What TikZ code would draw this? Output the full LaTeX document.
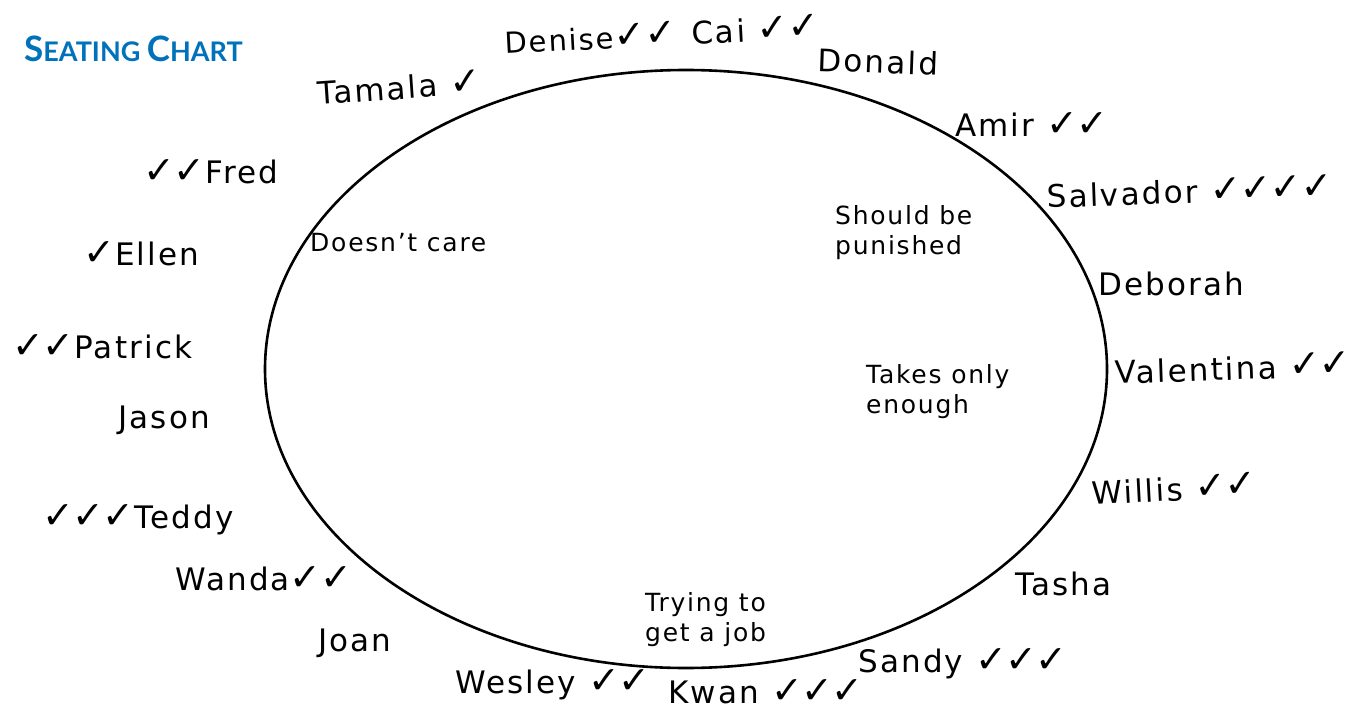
\documentclass[tikz,border=0pt]{standalone}
\usepackage{fontspec}
\setmainfont{DejaVu Sans}[LetterSpace=7]
\newfontfamily\titlefont{Lato}
\newfontfamily\checkfont{DejaVu Sans}[LetterSpace=-4]
\newcommand\ck{{\checkfont\fontsize{38}{38}\selectfont ✓}}
\definecolor{titleblue}{RGB}{0,114,188}
\tikzset{
  person/.style={anchor=base west, inner sep=0pt, font=\fontsize{31}{32}\selectfont},
  remark/.style={anchor=north west, inner sep=0pt, align=left, font=\fontsize{25}{30}\selectfont},
  ring/.style={draw=black, line width=2.6pt}
}
\begin{document}
\begin{tikzpicture}[x=1pt,y=-1pt]
\useasboundingbox (0,0) rectangle (1351,714);
\fill[white] (0,0) rectangle (1351,714);
% title
\node[anchor=base west, inner sep=0pt, text=titleblue] (title) at (24,62)
  {\titlefont\bfseries\fontsize{35}{35}\selectfont S\fontsize{27}{27}\selectfont EATING \fontsize{35}{35}\selectfont C\fontsize{27}{27}\selectfont HART};
% table
\draw[ring] (686,369) ellipse [x radius=421, y radius=299];
% names clockwise from top left
\node[person, rotate=4] (tamala) at (318,105) {Tamala \ck};
\node[person, rotate=3, font=\fontsize{29}{30}\selectfont] (denise) at (505,54) {Denise\ck\ck};
\node[person, rotate=3] (cai) at (692,45) {Cai \ck\ck};
\node[person, rotate=-2] (donald) at (817,71) {Donald};
\node[person] (amir) at (955,137) {Amir \ck\ck};
\node[person, rotate=2] (salvador) at (1047,208) {Salvador \ck\ck\ck\ck};
\node[person] (deborah) at (1098,295) {Deborah};
\node[person, rotate=2] (valentina) at (1115,384) {Valentina \ck\ck};
\node[person, rotate=3] (willis) at (1092,505) {Willis \ck\ck};
\node[person] (tasha) at (1015,595) {Tasha};
\node[person] (sandy) at (858,672) {Sandy \ck\ck\ck};
\node[person] (kwan) at (668,703) {Kwan \ck\ck\ck};
\node[person] (wesley) at (455,693) {Wesley \ck\ck};
\node[person] (joan) at (318,651) {Joan};
\node[person] (wanda) at (175,590) {Wanda\ck\ck};
\node[person] (teddy) at (42,528) {\ck\ck\ck Teddy};
\node[person] (jason) at (118,428) {Jason};
\node[person] (patrick) at (12,358) {\ck\ck Patrick};
\node[person] (ellen) at (83,265) {\ck Ellen};
\node[person] (fred) at (143,184) {\ck\ck Fred};
% notes inside
\node[remark] (care) at (310,233) {Doesn't care};
\node[remark] (punish) at (835,205) {Should be\\punished};
\node[remark] (enough) at (866,364) {Takes only\\enough};
\node[remark] (job) at (645,592) {Trying to\\get a job};
\end{tikzpicture}
\end{document}
